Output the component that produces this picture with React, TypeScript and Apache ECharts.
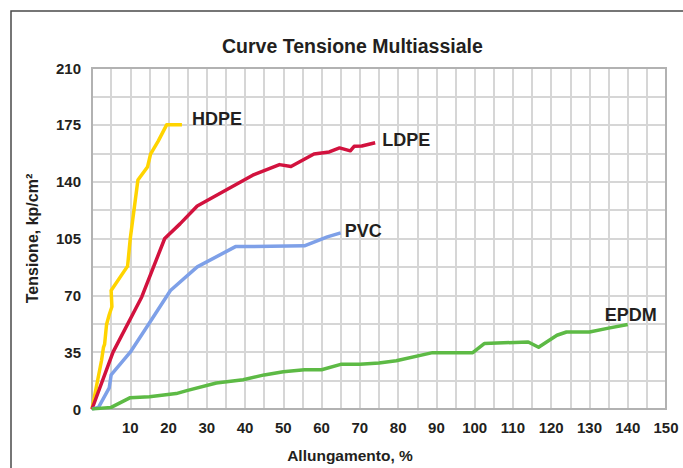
import React, { useEffect, useRef } from "react";
import * as echarts from "echarts";

const titleText = "Curve Tensione Multiassiale";
const xName = "Allungamento, %";
const yName = "Tensione, kp/cm²";

const seriesNames = ["HDPE", "LDPE", "PVC", "EPDM"];
const seriesColors = ["#FFD400", "#D2123E", "#7EA0E8", "#5DBA45"];

const hdpe: number[][] = [
  [0, 0], [1.5, 18], [2.5, 30], [3, 38], [3.3, 40], [3.8, 52], [4.5, 58], [5.2, 63],
  [5, 73], [9.3, 88], [10, 105], [12, 141], [14.5, 149], [15.3, 157], [17.3, 165],
  [19.5, 175], [23.5, 175],
];
const ldpe: number[][] = [
  [0, 0], [5.5, 35], [13, 69], [19, 105], [23, 114], [27.5, 125], [42, 144],
  [49, 150.5], [52, 149.3], [58, 157], [62, 158.3], [64.7, 160.8], [67.5, 159],
  [68.5, 161.8], [70.5, 162], [74, 164],
];
const pvc: number[][] = [
  [0, 0], [1.7, 1], [4.5, 13], [5, 21], [10, 35], [15, 53], [20.5, 73], [27.5, 87.5],
  [37.5, 100], [55.5, 100.5], [61.5, 106], [65, 108.5],
];
const epdm: number[][] = [
  [0, 0], [5, 1], [10, 7], [15, 7.5], [22, 9.5], [25, 11.5], [32.5, 16], [39.5, 18],
  [45, 21], [50, 23], [55.5, 24.2], [60, 24.2], [65, 27.5], [70, 27.5], [75, 28.3],
  [79.5, 29.7], [89, 34.7], [99.5, 34.7], [102.5, 40.3], [114, 41.3], [116.7, 38],
  [121.5, 45.4], [124, 47.4], [130, 47.4], [135, 49.8], [140, 52],
];
const allData = [hdpe, ldpe, pvc, epdm];
const labelOffsets: number[][] = [[10, -6], [7, -2.5], [4, -1.5], [-23, -10]];

const xMin = 0, xMax = 150, xStep = 10;
const yMin = 0, yMax = 210, yStep = 35;

export default function App() {
  const ref = useRef<HTMLDivElement>(null);
  useEffect(() => {
    if (!ref.current) return;
    const chart = echarts.init(ref.current, null, { renderer: "svg" });
    const labelFont = { fontFamily: "Liberation Sans", fontWeight: "bold" as const };
    chart.setOption({
      animation: false,
      backgroundColor: "#ffffff",
      title: {
        text: titleText,
        left: 222,
        top: 36,
        padding: 0,
        textStyle: {
          fontFamily: "Liberation Sans",
          fontWeight: "bold",
          fontSize: 19.5,
          color: "#231f20",
        },
      },
      graphic: [
        {
          type: "rect",
          shape: { x: 11, y: 11, width: 720, height: 520 },
          style: { fill: "none", stroke: "#4a4a4a", lineWidth: 1.5 },
          silent: true,
        },
      ],
      grid: {
        left: 92,
        right: 17,
        top: 68,
        bottom: 51,
        show: true,
        z: 1,
        borderColor: "#b2b2b2",
        borderWidth: 2,
        backgroundColor: "transparent",
      },
      xAxis: {
        type: "value",
        min: xMin,
        max: xMax,
        interval: xStep,
        name: xName,
        nameLocation: "middle",
        nameGap: 38,
        nameTextStyle: {
          ...labelFont,
          fontSize: 15.5,
          color: "#231f20",
          padding: [0, 58, 0, 0],
        },
        axisLine: { show: false },
        axisTick: { show: false },
        axisLabel: {
          ...labelFont,
          fontSize: 15,
          color: "#231f20",
          margin: 11,
          formatter: (v: number) => (v === 0 ? "" : String(v)),
        },
        splitLine: { show: true, lineStyle: { color: "#d6d6d6", width: 2 } },
        minorTick: { show: false, splitNumber: 2 },
        minorSplitLine: { show: true, lineStyle: { color: "#d6d6d6", width: 2 } },
      },
      yAxis: {
        type: "value",
        min: yMin,
        max: yMax,
        interval: yStep,
        name: yName,
        nameLocation: "middle",
        nameGap: 52,
        nameTextStyle: { ...labelFont, fontSize: 16, color: "#231f20" },
        axisLine: { show: false },
        axisTick: { show: false },
        axisLabel: { ...labelFont, fontSize: 15, color: "#231f20", margin: 11 },
        splitLine: { show: true, lineStyle: { color: "#d6d6d6", width: 2 } },
        minorTick: { show: false, splitNumber: 2 },
        minorSplitLine: { show: true, lineStyle: { color: "#d6d6d6", width: 2 } },
      },
      series: seriesNames.map((name, i) => ({
        type: "line",
        name,
        data: allData[i],
        showSymbol: false,
        symbol: "none",
        z: 3,
        lineStyle: { color: seriesColors[i], width: 3.5, join: "round" },
        itemStyle: { color: seriesColors[i] },
        endLabel: {
          show: true,
          formatter: name,
          position: "right",
          distance: 0,
          offset: labelOffsets[i],
          ...labelFont,
          fontSize: 18,
          color: "#231f20",
        },
      })),
    });
    return () => chart.dispose();
  }, []);
  return (
    <div
      ref={ref}
      style={{ position: "absolute", left: 0, top: 0, width: 683, height: 468 }}
    />
  );
}
